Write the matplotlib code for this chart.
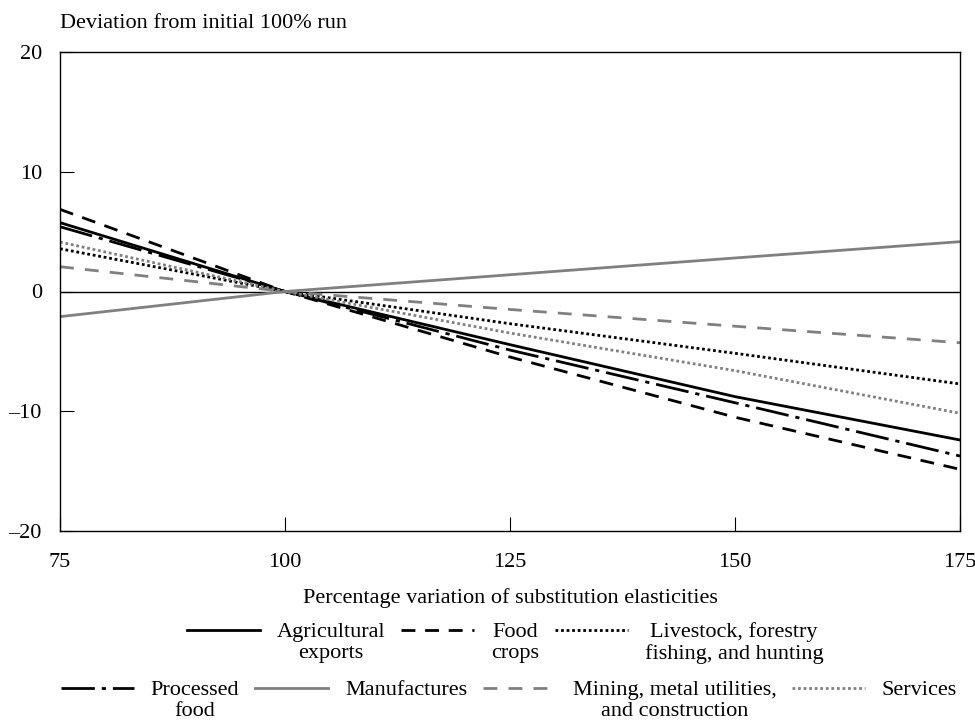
import numpy as np
import matplotlib.pyplot as plt

plt.rcParams['font.family'] = ['Liberation Serif', 'DejaVu Serif']
plt.rcParams['font.size'] = 16

x = [75, 100, 125, 150, 175]
agri_exports = [5.75, 0, -4.44, -8.78, -12.4]
food_crops = [6.86, 0, -5.47, -10.5, -14.85]
livestock = [3.57, 0, -2.69, -5.16, -7.72]
processed_food = [5.41, 0, -4.89, -9.29, -13.74]
manufactures = [-2.1, 0, 1.4, 2.8, 4.16]
mining = [2.07, 0, -1.5, -2.9, -4.28]
services = [4.13, 0, -3.47, -6.61, -10.17]

gray = '#808080'

fig = plt.figure(figsize=(9.75, 7.22), dpi=100)
ax = fig.add_axes([60 / 975, 1 - 531 / 722, 900 / 975, 479 / 722])

ax.axhline(0, color='black', lw=1)

# second line of single-line labels left blank so every entry lines up on its first line
l1, = ax.plot(x, agri_exports, color='black', lw=2, label='Agricultural\nexports')
l2, = ax.plot(x, food_crops, color='black', lw=2, dashes=(5, 3.5), label='Food\ncrops')
l3, = ax.plot(x, livestock, color='black', lw=2, dashes=(1, 1), label='Livestock, forestry\nfishing, and hunting')
l4, = ax.plot(x, processed_food, color='black', lw=2, dashes=(12, 2.5, 1.5, 2.5), label='Processed\nfood')
l5, = ax.plot(x, manufactures, color=gray, lw=2, label='Manufactures\n ')
l6, = ax.plot(x, mining, color=gray, lw=2, dashes=(5, 4), label='Mining, metal utilities,\nand construction')
l7, = ax.plot(x, services, color=gray, lw=2, dashes=(1, 1), label='Services\n ')

ax.set_xlim(75, 175)
ax.set_ylim(-20, 20)
ax.set_xticks([75, 100, 125, 150, 175])
ax.set_yticks([-20, -10, 0, 10, 20])
ax.set_yticklabels(['\u201320', '\u201310', '0', '10', '20'])
ax.tick_params(axis='x', direction='in', length=10, pad=16)
ax.tick_params(axis='y', direction='in', length=10, pad=13)
for s in ax.spines.values():
    s.set_linewidth(1)

fig.text(60 / 975, 1 - 23 / 722, 'Deviation from initial 100% run', ha='left', va='center')
fig.text(510 / 975, 1 - 598 / 722, 'Percentage variation of substitution elasticities',
         ha='center', va='center')

leg_kw = dict(frameon=False, handlelength=3.3, handletextpad=0.75, columnspacing=0.7,
              borderpad=0, borderaxespad=0, loc='center')
leg1 = fig.legend([l1, l2, l3], [l1.get_label(), l2.get_label(), l3.get_label()],
                  ncol=3, bbox_to_anchor=(505 / 975, 1 - 643 / 722), **leg_kw)
leg2 = fig.legend([l4, l5, l6, l7], [l.get_label() for l in (l4, l5, l6, l7)],
                  ncol=4, bbox_to_anchor=(509 / 975, 1 - 701 / 722), **leg_kw)
for leg in (leg1, leg2):
    for t in leg.get_texts():
        t.set_multialignment('center')
    # lift the handle to the first text line (offset in points)
    for h in leg.legend_handles:
        h.set_ydata(np.asarray(h.get_ydata()) + 8.5)

fig.savefig('out.png', dpi=100)
